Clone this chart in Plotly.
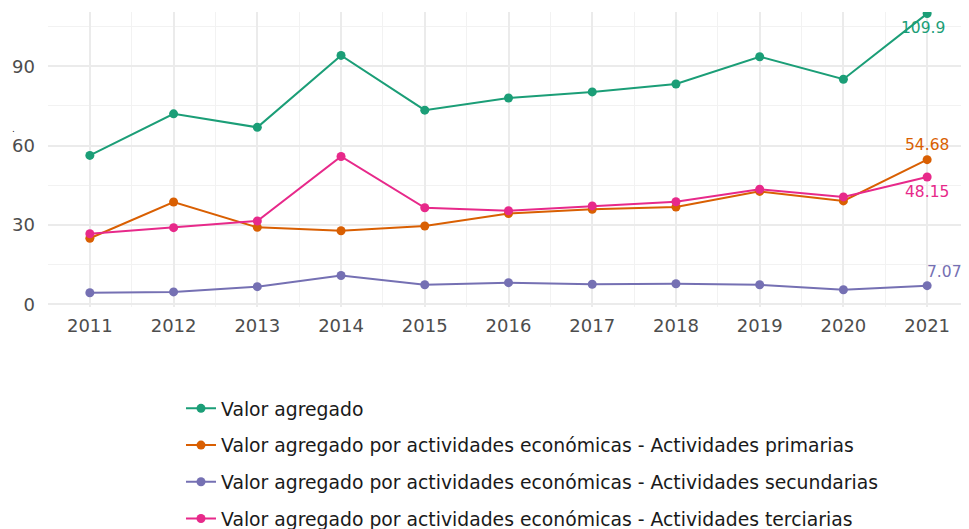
import plotly.graph_objects as go

years = [2011, 2012, 2013, 2014, 2015, 2016, 2017, 2018, 2019, 2020, 2021]
valor_agregado = [56.3, 72.0, 66.9, 94.1, 73.4, 78.0, 80.3, 83.3, 93.6, 85.1, 109.9]
primarias = [25.0, 38.7, 29.1, 27.8, 29.6, 34.3, 35.9, 36.8, 42.7, 39.1, 54.68]
secundarias = [4.4, 4.7, 6.7, 10.9, 7.4, 8.2, 7.6, 7.8, 7.4, 5.5, 7.07]
terciarias = [26.7, 29.0, 31.5, 55.9, 36.5, 35.4, 37.2, 38.8, 43.5, 40.6, 48.15]

names = [
    "Valor agregado",
    "Valor agregado por actividades económicas - Actividades primarias",
    "Valor agregado por actividades económicas - Actividades secundarias",
    "Valor agregado por actividades económicas - Actividades terciarias",
]
series = [valor_agregado, primarias, secundarias, terciarias]
colors = ["#1B9E77", "#D95F02", "#7570B3", "#E7298A"]
label_shift = [(-4, -14), (0, 15), (17, 14), (0, -15)]

y_ticks = [0, 30, 60, 90]
y_title = "."

fig = go.Figure()
for i, (nm, vals, col) in enumerate(zip(names, series, colors)):
    fig.add_trace(go.Scatter(
        x=years, y=vals, name=nm, mode="lines+markers",
        line=dict(color=col, width=2),
        marker=dict(color=col, size=9),
        legendgroup=f"g{i}",
    ))
    xs, ys = label_shift[i]
    fig.add_annotation(
        x=years[-1], y=vals[-1], text=f"{vals[-1]:g}", showarrow=False,
        xanchor="center", yanchor="middle", xshift=xs, yshift=ys,
        font=dict(color=col, size=15.5, family="DejaVu Sans"),
    )

# tiny y-axis title (a single dot) as in the reference
fig.add_annotation(
    xref="paper", yref="paper", x=-0.037, y=0.605, text=y_title, showarrow=False,
    xanchor="center", yanchor="middle",
    font=dict(size=9, color="#1a1a1a", family="DejaVu Sans"),
)

# page body has an 8px margin, so the figure is sized to fill the rest of the window
fig.update_layout(
    width=961, height=521,
    margin=dict(l=40, r=0, t=4, b=222, autoexpand=False),
    paper_bgcolor="white", plot_bgcolor="white",
    font=dict(family="DejaVu Sans", color="#4d4d4d"),
    showlegend=True,
    legend=dict(
        orientation="v", x=0.1444, xanchor="left", y=-0.28, yanchor="top",
        font=dict(size=18.8, color="#1a1a1a", family="DejaVu Sans"),
        tracegroupgap=9.3, bgcolor="rgba(0,0,0,0)",
    ),
    xaxis=dict(
        range=[2010.5, 2021.5], tickmode="array", tickvals=years,
        ticktext=[str(y) for y in years], automargin=False,
        showgrid=True, gridcolor="#ebebeb", gridwidth=1.9,
        zeroline=False, showline=False,
        ticks="outside", ticklen=2, tickcolor="rgba(0,0,0,0)",
        tickfont=dict(size=18, color="#4d4d4d"),
        minor=dict(showgrid=True, tickvals=[y + 0.5 for y in years[:-1]] + [2010.5],
                   gridcolor="#f2f2f2", gridwidth=1),
    ),
    yaxis=dict(
        range=[-1.0, 110.5], tickmode="array", tickvals=y_ticks,
        ticktext=[str(t) for t in y_ticks], automargin=False,
        showgrid=True, gridcolor="#ebebeb", gridwidth=1.9,
        zeroline=False, showline=False, ticks="",
        ticklabelstandoff=12,
        tickfont=dict(size=18, color="#4d4d4d"),
        minor=dict(showgrid=True, tickvals=[15, 45, 75, 105],
                   gridcolor="#f2f2f2", gridwidth=1),
    ),
)

fig.write_html("out.html")
